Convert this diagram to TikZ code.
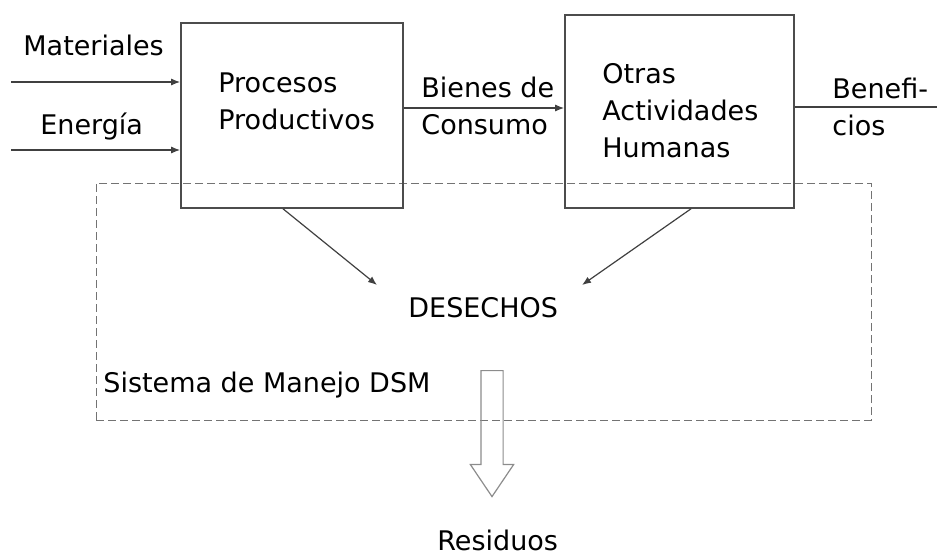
\documentclass[tikz,border=0pt]{standalone}
\usepackage{fontspec}
\setmainfont{DejaVu Sans}
\usetikzlibrary{arrows.meta, shapes.arrows}
\tikzset{
	box/.style={draw=black!70, line width=0.8pt, rectangle, inner sep=0pt},
	txt/.style={anchor=north west, align=left, inner sep=0pt},
	system/.style={draw=black!55, line width=0.5pt, dash pattern=on 4pt off 2pt, rectangle, inner sep=0pt},
	% hollow block arrow for the residues
	flow/.style={draw=black!45, line width=0.6pt, single arrow, rotate=-90, anchor=tail, single arrow head extend=5.25pt, single arrow tip angle=68, minimum height=63pt, inner sep=0pt, text height=10.5pt, text depth=0pt},
}

\begin{document}
\begin{tikzpicture}[x=0.5pt, y=-0.5pt, font=\fontsize{13.5}{18.5}\selectfont]
	\useasboundingbox (0,0) rectangle (937,558);
	
	\node (dsm) [system, minimum width=387.5pt, minimum height=118.5pt] at (483.5,301.5) {};
	\node (prod) [box, minimum width=111pt, minimum height=92.5pt] at (292,115.5) {};
	\node (otras) [box, minimum width=114.5pt, minimum height=96.5pt] at (679.5,111.5) {};
	
	\node (tprod) [txt] at (218,72) {Procesos\\Productivos};
	\node (totras) [txt] at (602,63) {Otras\\Actividades\\Humanas};
	\node (mat) [txt] at (23,35) {Materiales};
	\node (ene) [txt] at (40,112) {Energía};
	\node (bien) [txt] at (421,77) {Bienes de\\Consumo};
	\node (ben) [txt] at (832,78) {Benefi-\\cios};
	\node (des) [txt] at (408,297) {DESECHOS};
	\node (sis) [txt] at (103,372) {Sistema de Manejo DSM};
	\node (res) [txt] at (437,530) {Residuos};
	
	\coordinate (inM) at (11,82);
	\coordinate (inE) at (11,150);
	\coordinate (cons) at (0,108);
	\coordinate (outB) at (937,107);
	\coordinate (w1) at (377,285);
	\coordinate (w2) at (582,285);
	
	\begin{scope}[draw=black!75, line width=0.6pt, ->, >={Latex[length=4.5pt, width=3.5pt]}]
		\draw (inM) -- (inM -| prod.west);
		\draw (inE) -- (inE -| prod.west);
		\draw (prod.east |- cons) -- (otras.west |- cons);
		\draw ([xshift=-4.5pt]prod.south) -- (w1);
		\draw ([xshift=5.75pt]otras.south) -- (w2);
	\end{scope}
	\draw [draw=black!75, line width=0.6pt] (otras.east |- outB) -- (outB);
	
	\node (resflow) [flow] at (492,370) {};
\end{tikzpicture}
\end{document}
